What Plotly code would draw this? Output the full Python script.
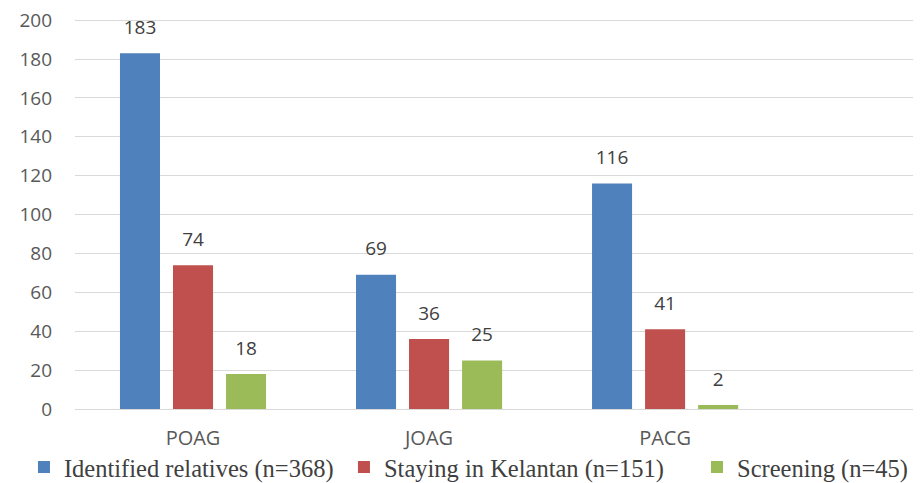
import plotly.graph_objects as go

categories = ["POAG", "JOAG", "PACG"]
series_names = ["Identified relatives (n=368)", "Staying in Kelantan (n=151)", "Screening (n=45)"]
identified = [183, 69, 116]
staying = [74, 36, 41]
screening = [18, 25, 2]
colors = ["#4F81BD", "#C0504D", "#9BBB59"]
y_ticks = [0, 20, 40, 60, 80, 100, 120, 140, 160, 180, 200]

sans = "Open Sans, Liberation Sans, sans-serif"
serif = "Liberation Serif, Times New Roman, serif"
legend_ids = ["legend", "legend2", "legend3"]
legend_x = [-0.0604, 0.3183, 0.7361]

fig = go.Figure()
for i, (name, vals, col) in enumerate(zip(series_names, [identified, staying, screening], colors)):
    fig.add_trace(go.Bar(
        x=categories, y=vals, name=name, marker=dict(color=col, line=dict(width=0)),
        offsetgroup=str(i), legend=legend_ids[i],
    ))
for i, vals in enumerate([identified, staying, screening]):
    fig.add_trace(go.Scatter(
        x=categories, y=vals, mode="markers+text", showlegend=False, hoverinfo="skip",
        marker=dict(size=22, opacity=0), offsetgroup=str(i),
        text=[str(v) for v in vals], textposition="top center", cliponaxis=False,
        textfont=dict(family=sans, size=19, color="#404040"),
    ))

legend_common = dict(orientation="h", xanchor="left", y=-0.149, yanchor="middle",
                     font=dict(family=serif, size=24.5, color="#404040"),
                     itemwidth=30, bgcolor="rgba(0,0,0,0)")

fig.update_layout(
    width=913, height=475,
    margin=dict(l=67, r=1, t=11, b=74, autoexpand=False),
    paper_bgcolor="white", plot_bgcolor="white",
    barmode="group", bargap=0.326, bargroupgap=0.245, scattermode="group",
    showlegend=True,
    legend=dict(x=legend_x[0], **legend_common),
    legend2=dict(x=legend_x[1], **legend_common),
    legend3=dict(x=legend_x[2], **legend_common),
    xaxis=dict(range=[-0.5, 3.08], showgrid=False, showline=True, linecolor="#D9D9D9", linewidth=1,
               ticks="", ticklabelstandoff=11,
               tickfont=dict(family=sans, size=20, color="#595959")),
    yaxis=dict(range=[0, 200.6], tickvals=y_ticks, showgrid=True, gridcolor="#D9D9D9", gridwidth=1,
               zeroline=False, showline=False, ticks="", ticklabelstandoff=22,
               ticklabeloverflow="allow",
               tickfont=dict(family=sans, size=19, color="#595959")),
)

fig.write_html("out.html")
